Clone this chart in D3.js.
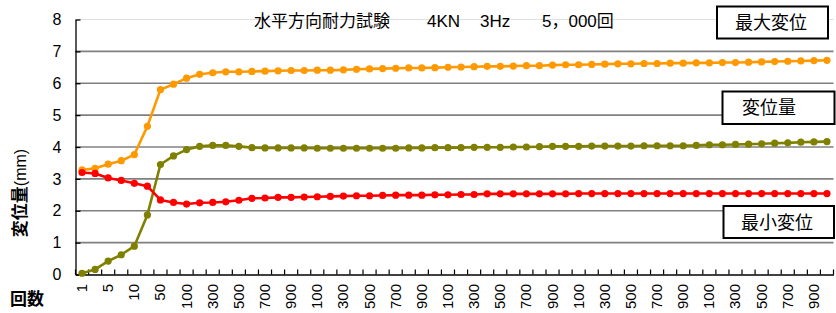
<!DOCTYPE html>
<html><head><meta charset="utf-8">
<script src="https://cdn.jsdelivr.net/npm/d3@7"></script>
<style>
html,body{margin:0;padding:0;background:#fff;overflow:hidden}
svg{display:block}
</style></head>
<body><svg id="c" width="836" height="313"></svg>
<script>
// categories (cycle counts)
const cycles = [1,3,5,7,10,30,50,70,100,200,300,400,500,600,700,800,900,
  1000,1100,1200,1300,1400,1500,1600,1700,1800,1900,2000,2100,2200,2300,2400,2500,
  2600,2700,2800,2900,3000,3100,3200,3300,3400,3500,3600,3700,3800,3900,4000,
  4100,4200,4300,4400,4500,4600,4700,4800,4900,5000];
// tick labels as they appear (every other category)
const tickLabels = ["1","5","10","50","100","300","500","700","900",
  "100","300","500","700","900","100","300","500","700","900",
  "100","300","500","700","900","100","300","500","700","900"];
const maxDisp = [3.28,3.33,3.46,3.57,3.76,4.65,5.80,5.97,6.16,6.28,6.33,6.36,6.36,6.37,6.38,6.39,6.40,
  6.40,6.41,6.41,6.42,6.44,6.45,6.46,6.47,6.48,6.48,6.49,6.50,6.51,6.52,6.53,6.53,
  6.54,6.55,6.55,6.57,6.58,6.58,6.59,6.60,6.61,6.61,6.62,6.62,6.63,6.63,6.64,
  6.64,6.65,6.65,6.66,6.67,6.68,6.69,6.70,6.71,6.72];
const dispAmount = [0.04,0.16,0.42,0.62,0.89,1.87,3.45,3.72,3.92,4.02,4.05,4.05,4.02,3.98,3.97,3.97,3.97,
  3.97,3.96,3.96,3.96,3.96,3.96,3.96,3.96,3.97,3.97,3.98,3.98,3.98,3.99,3.99,3.99,
  4.00,4.00,4.01,4.02,4.02,4.02,4.03,4.03,4.03,4.03,4.04,4.04,4.04,4.04,4.05,
  4.07,4.07,4.08,4.09,4.10,4.12,4.13,4.15,4.16,4.17];
const minDisp = [3.20,3.17,3.03,2.95,2.86,2.77,2.34,2.26,2.21,2.25,2.26,2.28,2.33,2.39,2.40,2.42,2.42,
  2.43,2.44,2.45,2.46,2.47,2.47,2.48,2.49,2.49,2.49,2.50,2.50,2.51,2.51,2.53,2.53,
  2.53,2.53,2.53,2.53,2.53,2.54,2.54,2.54,2.54,2.54,2.54,2.54,2.54,2.54,2.54,
  2.54,2.54,2.54,2.54,2.54,2.54,2.54,2.54,2.54,2.54];
const yTicks = [0,1,2,3,4,5,6,7,8];
const seriesNames = ["最大変位","変位量","最小変位"];
const colors = ["#FF9900","#808000","#FF0000"];
const titleParts = ["水平方向耐力試験","4KN","3Hz","5，000回"];
const yTitle = ["変位量","(mm)"];
const xTitle = "回数";

const svg = d3.select("#c");
const L = 75.5, R = 833.5, T = 19.5, B = 274.5;
const x = d3.scaleBand().domain(cycles.map(String)).range([L, R]).padding(0);
const y = d3.scaleLinear().domain([0, 8]).range([B, T]);
const cx = d => x(String(d)) + x.bandwidth() / 2;

// top border (faint)
svg.append("line").attr("x1", L).attr("x2", R).attr("y1", y(8)).attr("y2", y(8))
  .attr("stroke", "#e0e0e0").attr("stroke-width", 1);
// gridlines
svg.append("g").selectAll("line").data(yTicks.filter(t => t > 0 && t < 8)).join("line")
  .attr("x1", L).attr("x2", R).attr("y1", d => y(d)).attr("y2", d => y(d))
  .attr("stroke", "#808080").attr("stroke-width", 1.6);

// y axis
const yAxis = d3.axisLeft(y).tickValues(yTicks).tickSizeInner(-5).tickSizeOuter(0).tickPadding(14)
  .tickFormat(d3.format("d"));
const gy = svg.append("g").attr("transform", `translate(${L},0)`).call(yAxis);
gy.select(".domain").attr("stroke", "#000").attr("stroke-width", 1.3);
gy.selectAll(".tick line").attr("stroke", "#000").attr("stroke-width", 1.3);
gy.selectAll(".tick text").attr("font-family", "'Liberation Sans', Arial, sans-serif")
  .attr("font-size", 16).attr("fill", "#000");

// x axis
const xAxis = d3.axisBottom(x).tickSize(0).tickFormat(() => "");
const gx = svg.append("g").attr("transform", `translate(0,${B})`).call(xAxis);
gx.select(".domain").attr("stroke", "#000").attr("stroke-width", 1.3);
// category boundary ticks (inward)
svg.append("g").selectAll("line").data(cycles.concat(["end"])).join("line")
  .attr("x1", (d, i) => i < cycles.length ? x(String(d)) : R)
  .attr("x2", (d, i) => i < cycles.length ? x(String(d)) : R)
  .attr("y1", B).attr("y2", B - 5).attr("stroke", "#000").attr("stroke-width", 1.2);
// tick labels every other category
const labelled = cycles.filter((d, i) => i % 2 === 0);
svg.append("g").selectAll("text").data(labelled).join("text")
  .attr("transform", d => `translate(${cx(d) + 5},${284}) rotate(-90)`)
  .attr("text-anchor", "end")
  .attr("font-family", "'Liberation Sans', Arial, sans-serif").attr("font-size", 15)
  .attr("fill", "#000").text((d, i) => tickLabels[i]);

// series
const allSeries = [maxDisp, dispAmount, minDisp];
const line = d3.line().x((d, i) => cx(cycles[i])).y(d => y(d));
allSeries.forEach((s, k) => {
  const g = svg.append("g");
  g.append("path").datum(s).attr("d", line).attr("fill", "none")
    .attr("stroke", colors[k]).attr("stroke-width", 2.6).attr("stroke-linejoin", "round");
  g.selectAll("circle").data(s).join("circle")
    .attr("cx", (d, i) => cx(cycles[i])).attr("cy", d => y(d)).attr("r", 3.6)
    .attr("fill", colors[k]);
});

// title
const cjk = "'Noto Sans CJK JP', 'Noto Sans', sans-serif";
const tt = svg.append("text").attr("y", 27).attr("font-size", 17).attr("fill", "#000")
  .attr("font-family", "'Liberation Sans', " + cjk);
const tx = [254, 427, 480, 542];
titleParts.forEach((p, i) => tt.append("tspan").attr("x", tx[i]).text(p));

// label boxes
const boxes = [
  {x0: 717, x1: 828, y0: 6.5, y1: 38.5, tx: 771},
  {x0: 722.5, x1: 834.5, y0: 91.5, y1: 124, tx: 769},
  {x0: 723.5, x1: 834, y0: 206, y1: 238, tx: 777}
];
boxes.forEach((b, k) => {
  svg.append("rect").attr("x", b.x0).attr("y", b.y0).attr("width", b.x1 - b.x0)
    .attr("height", b.y1 - b.y0).attr("fill", "#fff").attr("stroke", "#000").attr("stroke-width", 2);
  svg.append("text").attr("x", b.tx).attr("y", (b.y0 + b.y1) / 2 + 6.5)
    .attr("text-anchor", "middle").attr("font-family", cjk).attr("font-size", 18)
    .attr("fill", "#000").text(seriesNames[k]);
});

// y title
const yt = svg.append("text").attr("transform", "translate(26,193) rotate(-90)")
  .attr("text-anchor", "middle").attr("font-family", cjk).attr("font-size", 17).attr("fill", "#000");
yt.append("tspan").attr("font-weight", "bold").text(yTitle[0]);
yt.append("tspan").attr("font-family", "'Liberation Sans', sans-serif").attr("font-size", 16).text(yTitle[1]);

// x title
svg.append("text").attr("x", 10).attr("y", 305).attr("font-family", cjk)
  .attr("font-size", 17).attr("font-weight", "bold").attr("fill", "#000").text(xTitle);
</script></body></html>
